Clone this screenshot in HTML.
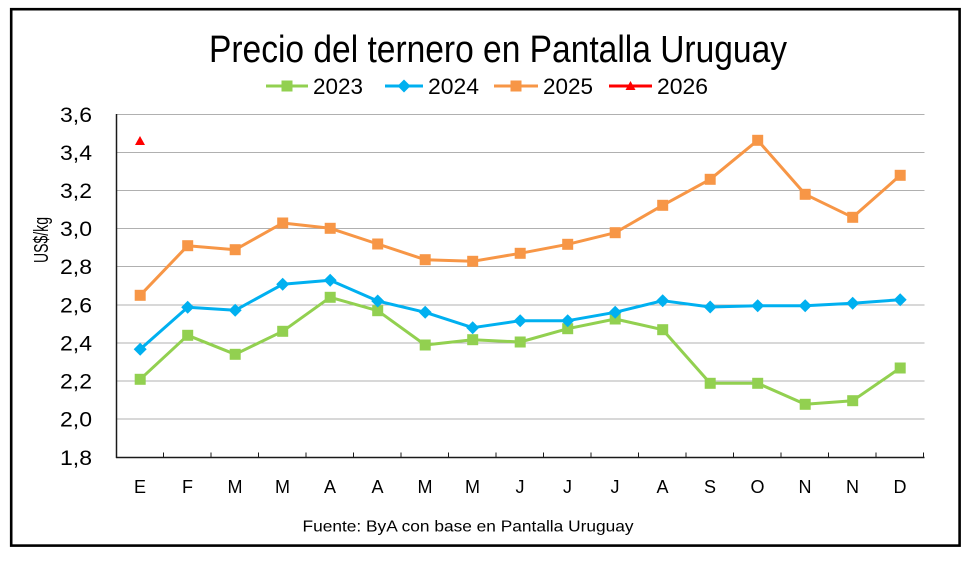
<!DOCTYPE html>
<html><head><meta charset="utf-8"><style>
html,body{margin:0;padding:0;background:#fff;}
svg{display:block;}
text{font-family:"Liberation Sans",Arial,sans-serif;fill:#000;}
</style></head><body>
<svg width="966" height="562" viewBox="0 0 966 562" xmlns="http://www.w3.org/2000/svg">
<defs>
<marker id="mg" markerUnits="userSpaceOnUse" markerWidth="14" markerHeight="14" refX="7" refY="7" overflow="visible"><rect x="1.5" y="1.5" width="11" height="11" fill="#92D050"/></marker>
<marker id="mo" markerUnits="userSpaceOnUse" markerWidth="14" markerHeight="14" refX="7" refY="7" overflow="visible"><rect x="1.5" y="1.5" width="11" height="11" fill="#F79646"/></marker>
<marker id="mb" markerUnits="userSpaceOnUse" markerWidth="14" markerHeight="14" refX="7" refY="7" overflow="visible"><polygon points="7,0.5 13.5,7 7,13.5 0.5,7" fill="#00B0F0"/></marker>
</defs>
<rect x="0" y="0" width="966" height="562" fill="#fff"/>
<rect x="11.2" y="9.2" width="948.4" height="536.4" fill="none" stroke="#000" stroke-width="2.6"/>

<text x="209" y="62" font-size="38" textLength="578" lengthAdjust="spacingAndGlyphs">Precio del ternero en Pantalla Uruguay</text>

<!-- legend -->
<line x1="266" y1="86" x2="308" y2="86" stroke="#92D050" stroke-width="3"/>
<rect x="281.5" y="80.5" width="11" height="11" fill="#92D050"/>
<text x="313" y="94" font-size="22" textLength="50" lengthAdjust="spacingAndGlyphs">2023</text>
<line x1="385" y1="86" x2="423" y2="86" stroke="#00B0F0" stroke-width="3"/>
<polygon points="404,79.5 410.5,86 404,92.5 397.5,86" fill="#00B0F0"/>
<text x="428" y="94" font-size="22" textLength="51" lengthAdjust="spacingAndGlyphs">2024</text>
<line x1="494" y1="86" x2="538" y2="86" stroke="#F79646" stroke-width="3"/>
<rect x="510.5" y="80.5" width="11" height="11" fill="#F79646"/>
<text x="543" y="94" font-size="22" textLength="50" lengthAdjust="spacingAndGlyphs">2025</text>
<line x1="609" y1="86" x2="652" y2="86" stroke="#FF0000" stroke-width="3"/>
<polygon points="630.5,81 635.5,90 625.5,90" fill="#FF0000"/>
<text x="657" y="94" font-size="22" textLength="51" lengthAdjust="spacingAndGlyphs">2026</text>

<!-- gridlines -->
<g stroke="#B0B0B0" stroke-width="1">
<line x1="116" y1="114.5" x2="924.5" y2="114.5"/>
<line x1="116" y1="152.5" x2="924.5" y2="152.5"/>
<line x1="116" y1="190.5" x2="924.5" y2="190.5"/>
<line x1="116" y1="228.5" x2="924.5" y2="228.5"/>
<line x1="116" y1="266.5" x2="924.5" y2="266.5"/>
<line x1="116" y1="305" x2="924.5" y2="305"/>
<line x1="116" y1="343" x2="924.5" y2="343"/>
<line x1="116" y1="381" x2="924.5" y2="381"/>
<line x1="116" y1="419" x2="924.5" y2="419"/>
</g>
<!-- axes -->
<line x1="116.5" y1="114" x2="116.5" y2="458" stroke="#1a1a1a" stroke-width="1.5"/>
<line x1="116" y1="457.5" x2="924.5" y2="457.5" stroke="#1a1a1a" stroke-width="1.5"/>
<g stroke="#1a1a1a" stroke-width="1">
<line x1="163.5" y1="452.5" x2="163.5" y2="457.5"/>
<line x1="211" y1="452.5" x2="211" y2="457.5"/>
<line x1="258.5" y1="452.5" x2="258.5" y2="457.5"/>
<line x1="306" y1="452.5" x2="306" y2="457.5"/>
<line x1="353.5" y1="452.5" x2="353.5" y2="457.5"/>
<line x1="401" y1="452.5" x2="401" y2="457.5"/>
<line x1="448.5" y1="452.5" x2="448.5" y2="457.5"/>
<line x1="496" y1="452.5" x2="496" y2="457.5"/>
<line x1="543.5" y1="452.5" x2="543.5" y2="457.5"/>
<line x1="591" y1="452.5" x2="591" y2="457.5"/>
<line x1="638.5" y1="452.5" x2="638.5" y2="457.5"/>
<line x1="686" y1="452.5" x2="686" y2="457.5"/>
<line x1="733.5" y1="452.5" x2="733.5" y2="457.5"/>
<line x1="781" y1="452.5" x2="781" y2="457.5"/>
<line x1="828.5" y1="452.5" x2="828.5" y2="457.5"/>
<line x1="876" y1="452.5" x2="876" y2="457.5"/>
<line x1="923.5" y1="452.5" x2="923.5" y2="457.5"/>
</g>

<!-- y labels -->
<g font-size="21" text-anchor="end">
<text x="92" y="122" textLength="32" lengthAdjust="spacingAndGlyphs">3,6</text>
<text x="92" y="160" textLength="32" lengthAdjust="spacingAndGlyphs">3,4</text>
<text x="92" y="198" textLength="32" lengthAdjust="spacingAndGlyphs">3,2</text>
<text x="92" y="236" textLength="32" lengthAdjust="spacingAndGlyphs">3,0</text>
<text x="92" y="274" textLength="32" lengthAdjust="spacingAndGlyphs">2,8</text>
<text x="92" y="312.5" textLength="32" lengthAdjust="spacingAndGlyphs">2,6</text>
<text x="92" y="350.5" textLength="32" lengthAdjust="spacingAndGlyphs">2,4</text>
<text x="92" y="388.5" textLength="32" lengthAdjust="spacingAndGlyphs">2,2</text>
<text x="92" y="426.5" textLength="32" lengthAdjust="spacingAndGlyphs">2,0</text>
<text x="92" y="465" textLength="32" lengthAdjust="spacingAndGlyphs">1,8</text>
</g>
<text transform="translate(48,240) rotate(-90)" font-size="20" text-anchor="middle" textLength="46" lengthAdjust="spacingAndGlyphs">US$/kg</text>

<!-- x labels -->
<g font-size="18" text-anchor="middle">
<text x="140" y="493">E</text>
<text x="187.5" y="493">F</text>
<text x="235" y="493">M</text>
<text x="282.5" y="493">M</text>
<text x="330" y="493">A</text>
<text x="377.5" y="493">A</text>
<text x="425" y="493">M</text>
<text x="472.5" y="493">M</text>
<text x="520" y="493">J</text>
<text x="567.5" y="493">J</text>
<text x="615" y="493">J</text>
<text x="662.5" y="493">A</text>
<text x="710" y="493">S</text>
<text x="757.5" y="493">O</text>
<text x="805" y="493">N</text>
<text x="852.5" y="493">N</text>
<text x="900" y="493">D</text>
</g>

<text x="302.5" y="531.5" font-size="16" textLength="331" lengthAdjust="spacingAndGlyphs">Fuente: ByA con base en Pantalla Uruguay</text>

<!-- series 2023 -->
<polyline fill="none" stroke="#92D050" stroke-width="3" stroke-linejoin="round" marker-start="url(#mg)" marker-mid="url(#mg)" marker-end="url(#mg)"
points="140.2,379.3 187.7,335.3 235.2,354.3 282.7,331.3 330.2,297.3 377.7,310.7 425.2,345 472.7,339.7 520.2,342 567.7,328.7 615.2,319 662.7,329.7 710.2,383.3 757.7,383.3 805.2,404.3 852.7,400.7 900.2,368"/>
<!-- series 2024 -->
<polyline fill="none" stroke="#00B0F0" stroke-width="3" stroke-linejoin="round" marker-start="url(#mb)" marker-mid="url(#mb)" marker-end="url(#mb)"
points="140.2,349.3 187.7,307.3 235.2,310.3 282.7,284.3 330.2,280.3 377.7,301 425.2,312.3 472.7,327.7 520.2,320.7 567.7,320.7 615.2,312.3 662.7,300.7 710.2,307 757.7,305.7 805.2,305.7 852.7,303.3 900.2,299.7"/>
<!-- series 2025 -->
<polyline fill="none" stroke="#F79646" stroke-width="3" stroke-linejoin="round" marker-start="url(#mo)" marker-mid="url(#mo)" marker-end="url(#mo)"
points="140.2,295.3 187.7,245.7 235.2,249.7 282.7,223 330.2,228.3 377.7,244 425.2,259.7 472.7,261.3 520.2,253.3 567.7,244.3 615.2,232.7 662.7,205.3 710.2,179.3 757.7,140.3 805.2,194.3 852.7,217.3 900.2,175.3"/>
<!-- series 2026 -->
<polygon points="140,136 145,145 135,145" fill="#FF0000"/>
</svg>
</body></html>
